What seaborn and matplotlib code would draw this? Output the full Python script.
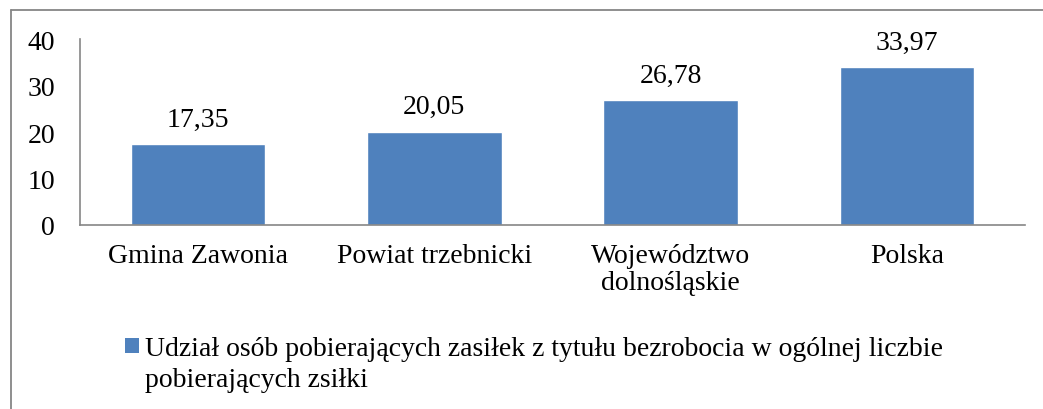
import matplotlib
matplotlib.use('Agg')
import matplotlib.pyplot as plt
from matplotlib.patches import Patch
from matplotlib.lines import Line2D
import seaborn as sns
import pandas as pd

# chart data
categories = ['Gmina Zawonia', 'Powiat trzebnicki', 'Województwo\ndolnośląskie', 'Polska']
values = [17.35, 20.05, 26.78, 33.97]
yticks = [0, 10, 20, 30, 40]
legend_line1 = 'Udział osób pobierających zasiłek z tytułu bezrobocia w ogólnej liczbie'
legend_line2 = 'pobierających zsiłki'

bar_color = '#4F81BD'
grey = '#868686'
fs = 20

sns.set_style('white')
plt.rcParams['font.family'] = ['Liberation Serif', 'DejaVu Serif']
plt.rcParams['text.color'] = 'black'
plt.rcParams['xtick.color'] = 'black'
plt.rcParams['ytick.color'] = 'black'

df = pd.DataFrame({'category': categories, 'value': values})

fig = plt.figure(figsize=(10.43, 4.10), dpi=100)
ax = fig.add_axes([0.0767, 0.4488, 0.906, 0.4536])

sns.barplot(data=df, x='category', y='value', color=bar_color, saturation=1,
            width=0.57, ax=ax)

ax.set_ylim(0, 40)
ax.set_yticks(yticks)
ax.set_xlabel('')
ax.set_ylabel('')
ax.tick_params(axis='y', length=0, pad=18, labelsize=fs)
ax.tick_params(axis='x', length=0, pad=13, labelsize=fs)
for lbl in ax.get_xticklabels():
    lbl.set_linespacing(1.1)

for side in ['top', 'right']:
    ax.spines[side].set_visible(False)
for side in ['left', 'bottom']:
    ax.spines[side].set_color(grey)
    ax.spines[side].set_linewidth(1.2)

# value labels with decimal comma
for cont in ax.containers:
    ax.bar_label(cont, labels=[f'{v:.2f}'.replace('.', ',') for v in values],
                 padding=9, fontsize=fs)

# legend: handle sits next to the first line, second line wraps below
handle = Patch(facecolor=bar_color, edgecolor='none')
leg = fig.legend([handle], [legend_line1], loc='upper left',
                 bbox_to_anchor=(0.12, 0.177), frameon=False, fontsize=fs,
                 handlelength=0.5, handleheight=0.5, handletextpad=0.22,
                 borderaxespad=0, borderpad=0)
fig.canvas.draw()
x0 = leg.get_texts()[0].get_window_extent().x0 / fig.bbox.width
fig.text(x0, 1 - 387 / 410, legend_line2, fontsize=fs, va='baseline', ha='left')

# outer chart border (only top and left are visible in the crop)
fig.add_artist(Line2D([0.0105, 1.0], [0.973, 0.973], color=grey, lw=1.3,
                      transform=fig.transFigure))
fig.add_artist(Line2D([0.0105, 0.0105], [0.0, 0.973], color=grey, lw=1.3,
                      transform=fig.transFigure))

fig.savefig('out.png', dpi=100, facecolor='white')
